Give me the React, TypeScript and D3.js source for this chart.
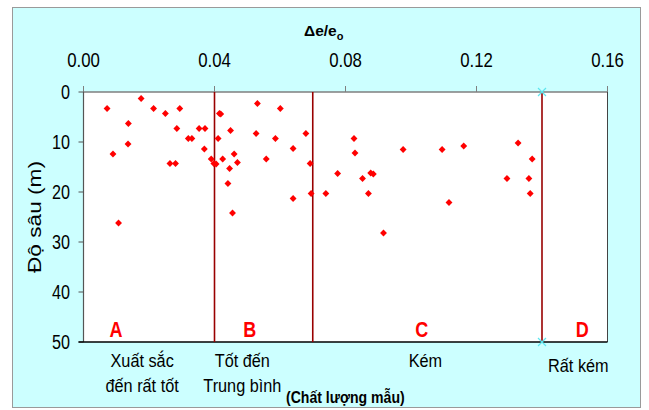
import React from "react";
import * as d3 from "d3";

// Δe/e0 (sample disturbance index) versus depth for each specimen
const strain: number[] = [
  0.0072, 0.0176, 0.0214, 0.025, 0.0294, 0.0137, 0.0285, 0.0136, 0.009, 0.0264,
  0.0281, 0.032, 0.0331, 0.0353, 0.0371, 0.0369, 0.039, 0.0398, 0.0405, 0.0415,
  0.0419, 0.0411, 0.0425, 0.0449, 0.046, 0.047, 0.0446, 0.0441, 0.0455, 0.0107,
  0.0531, 0.0527, 0.0601, 0.0586, 0.0679, 0.064, 0.0826, 0.0829, 0.0558, 0.0692,
  0.0776, 0.0852, 0.0877, 0.0885, 0.064, 0.0695, 0.074, 0.087, 0.0916, 0.0976,
  0.1095, 0.1161, 0.1327, 0.137, 0.1293, 0.136, 0.1364, 0.1116,
];
const depth: number[] = [
  3.3, 1.3, 3.3, 4.3, 3.3, 6.3, 7.3, 10.4, 12.4, 14.3,
  14.3, 9.3, 9.3, 7.3, 7.3, 11.4, 13.4, 14.3, 14.4, 4.3,
  4.4, 9.3, 13.4, 7.7, 12.4, 14.1, 15.3, 18.3, 24.2, 26.2,
  2.3, 8.3, 3.3, 9.3, 8.3, 11.3, 9.3, 12.2, 13.4, 14.3,
  16.3, 17.3, 16.2, 16.4, 21.3, 20.3, 20.3, 20.3, 28.2, 11.5,
  11.5, 10.8, 10.2, 13.4, 17.3, 17.3, 20.3, 22.1,
];

const xTicks = [0, 0.04, 0.08, 0.12, 0.16];
const yTicks = [0, 10, 20, 30, 40, 50];
// quality class boundaries on Δe/e0
const boundaries = [0.04, 0.07, 0.14];
const classLetters = ["A", "B", "C", "D"];
const classLetterX = [0.0099, 0.0508, 0.1033, 0.1523];
const classNames: string[][] = [
  ["Xuất sắc", "đến rất tốt"],
  ["Tốt đến", "Trung bình"],
  ["Kém"],
  ["Rất kém"],
];
const classNameX = [0.0179, 0.0485, 0.1044, 0.1511];

const FONT = "'Liberation Sans', Arial, sans-serif";

function Squeezed(props: {
  x: number;
  y: number;
  sx: number;
  size: number;
  anchor?: "start" | "middle" | "end";
  weight?: string;
  fill?: string;
  children: React.ReactNode;
}) {
  const { x, y, sx, size, anchor = "middle", weight = "normal", fill = "#000", children } = props;
  return (
    <text
      transform={`translate(${x},${y}) scale(${sx},1)`}
      textAnchor={anchor}
      fontFamily={FONT}
      fontSize={size}
      fontWeight={weight}
      fill={fill}
    >
      {children}
    </text>
  );
}

export default function App() {
  const x = d3.scaleLinear().domain([0, 0.16]).range([83.5, 607.5]);
  const y = d3.scaleLinear().domain([0, 50]).range([92, 342]);
  const diamond = d3.symbol().type(d3.symbolDiamond2).size(30)() as string;
  const cross = "M-4,-4L4,4M-4,4L4,-4";

  const [x0, x1] = x.range();
  const [y0, y1] = y.range();

  return (
    <div style={{ position: "absolute", left: 0, top: 0 }}>
      <svg width={649} height={410} style={{ display: "block" }}>
        <rect x={0} y={0} width={649} height={410} fill="#ffffff" />
        <rect x={12.5} y={7.5} width={628} height={400} fill="#ccffff" stroke="#9a9a9a" />
        <rect x={x0} y={y0} width={x1 - x0} height={y1 - y0} fill="#ffffff" />

        {/* title */}
        <text x={304} y={36} fontFamily={FONT} fontSize={15.5} fontWeight="bold" fill="#000">
          Δe/e
          <tspan fontSize={11} dy={4}>o</tspan>
        </text>

        {/* top axis */}
        <line x1={x0} x2={x1} y1={y0} y2={y0} stroke="#7f7f7f" strokeWidth={1.5} />
        {xTicks.map((t) => (
          <g key={`xt${t}`}>
            <line x1={x(t)} x2={x(t)} y1={y0} y2={y0 - 6} stroke="#7f7f7f" strokeWidth={1} />
            <Squeezed x={x(t)} y={67} sx={0.82} size={20.5}>
              {t.toFixed(2)}
            </Squeezed>
          </g>
        ))}

        {/* left axis */}
        <line x1={x0} x2={x0} y1={y0} y2={y1} stroke="#555" strokeWidth={1.2} />
        {yTicks.map((t) => (
          <g key={`yt${t}`}>
            <line x1={x0} x2={x0 - 5} y1={y(t)} y2={y(t)} stroke="#555" strokeWidth={1} />
            <Squeezed x={70} y={y(t) + 7} sx={0.83} size={19.5} anchor="end">
              {t}
            </Squeezed>
          </g>
        ))}
        <text
          transform={`translate(41,217) rotate(-90)`}
          textAnchor="middle"
          fontFamily={FONT}
          fontSize={19}
          textLength={112}
          lengthAdjust="spacingAndGlyphs"
          fill="#000"
        >
          Độ sâu (m)
        </text>

        {/* right edge and bottom edge */}
        <line x1={x1} x2={x1} y1={y0} y2={y1} stroke="#444" strokeWidth={1} />
        <line x1={x0 - 5} x2={x1} y1={y1} y2={y1} stroke="#000" strokeWidth={1.5} />

        {/* class boundaries */}
        {boundaries.map((b) => (
          <line
            key={`b${b}`}
            x1={x(b)}
            x2={x(b)}
            y1={y0}
            y2={y1}
            stroke="#990000"
            strokeWidth={1.6}
          />
        ))}
        {[0, 50].map((d) => (
          <path
            key={`c${d}`}
            d={cross}
            transform={`translate(${x(0.14)},${y(d)})`}
            stroke="#5fe6ef"
            strokeWidth={1.2}
            fill="none"
          />
        ))}

        {/* samples */}
        {strain.map((s, i) => (
          <path
            key={`p${i}`}
            d={diamond}
            transform={`translate(${x(s)},${y(depth[i])})`}
            fill="#ff0000"
          />
        ))}

        {/* class letters */}
        {classLetters.map((l, i) => (
          <Squeezed
            key={l}
            x={x(classLetterX[i])}
            y={336.5}
            sx={0.82}
            size={22}
            weight="bold"
            fill="#ff0000"
          >
            {l}
          </Squeezed>
        ))}

        {/* class names */}
        {classNames.map((lines, i) => (
          <g key={`n${i}`}>
            {lines.map((ln, j) => (
              <Squeezed
                key={ln}
                x={x(classNameX[i])}
                y={(i === 3 ? 371.5 : 366.5) + j * 25.5}
                sx={0.88}
                size={18.5}
              >
                {ln}
              </Squeezed>
            ))}
          </g>
        ))}
        <Squeezed x={286} y={403} sx={0.88} size={16} weight="bold" anchor="start">
          (Chất lượng mẫu)
        </Squeezed>
      </svg>
    </div>
  );
}
